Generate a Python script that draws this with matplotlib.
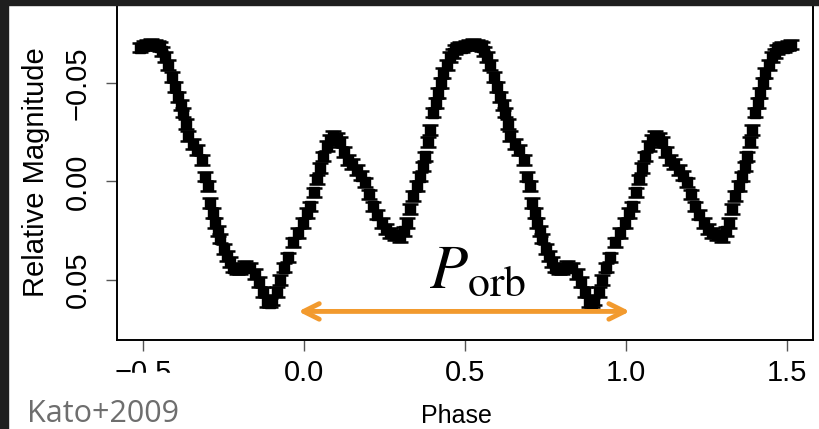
import numpy as np
import matplotlib
matplotlib.use("Agg")
import matplotlib.pyplot as plt
from matplotlib.patches import Rectangle

# one folded cycle of the light curve (phase, relative magnitude)
phase = [-0.509, -0.498, -0.488, -0.475, -0.463, -0.455, -0.447, -0.440, -0.432, -0.422,
         -0.410, -0.401, -0.391, -0.383, -0.376, -0.368, -0.360, -0.345, -0.332, -0.317,
         -0.307, -0.298, -0.292, -0.283, -0.276, -0.268, -0.261, -0.248, -0.239, -0.230,
         -0.220, -0.209, -0.199, -0.183, -0.168, -0.152, -0.140, -0.127, -0.115, -0.107,
         -0.099, -0.084, -0.075, -0.062, -0.050, -0.034, -0.019, -0.003, 0.009, 0.019,
         0.031, 0.040, 0.050, 0.059, 0.071, 0.081, 0.090, 0.102, 0.112, 0.124,
         0.137, 0.149, 0.165, 0.177, 0.189, 0.202, 0.214, 0.227, 0.242, 0.255,
         0.267, 0.283, 0.298, 0.311, 0.320, 0.329, 0.339, 0.351, 0.360, 0.370,
         0.376, 0.385, 0.391, 0.401, 0.410, 0.416, 0.425, 0.432, 0.444, 0.453,
         0.462, 0.469, 0.477, 0.484]
mag = [-0.068, -0.069, -0.0695, -0.0698, -0.0695, -0.069, -0.0685, -0.066, -0.063, -0.059,
       -0.053, -0.048, -0.043, -0.039, -0.035, -0.029, -0.023, -0.019, -0.016, -0.011,
       -0.0025, 0.0025, 0.011, 0.016, 0.021, 0.025, 0.029, 0.0345, 0.038, 0.041,
       0.0437, 0.0447, 0.0447, 0.043, 0.0437, 0.047, 0.051, 0.056, 0.061, 0.0615,
       0.060, 0.056, 0.050, 0.0437, 0.0386, 0.031, 0.026, 0.021, 0.016, 0.0127,
       0.0056, -0.001, -0.007, -0.0127, -0.018, -0.021, -0.023, -0.022, -0.020, -0.015,
       -0.011, -0.009, -0.006, -0.003, 0.0005, 0.0066, 0.0127, 0.0168, 0.021, 0.024,
       0.026, 0.0274, 0.028, 0.0254, 0.021, 0.0142, 0.0076, 0.0025, -0.0025, -0.0076,
       -0.0127, -0.020, -0.026, -0.035, -0.040, -0.045, -0.050, -0.055, -0.059, -0.063,
       -0.065, -0.067, -0.068, -0.0685]
mag_err = 0.0025

xticks = [-0.5, 0.0, 0.5, 1.0, 1.5]
yticks = [-0.05, 0.00, 0.05]

plt.rcParams['font.family'] = ['Liberation Sans', 'DejaVu Sans']
plt.rcParams['mathtext.fontset'] = 'stix'

fig = plt.figure(figsize=(8.2, 4.29), dpi=100)
ax = fig.add_axes([0.1427, 0.2075, 0.8488, 0.7809])

# the folded cycle is shown twice (and a bit), like the original figure
x = np.array(phase)
y = np.array(mag)
xs = np.concatenate([x, x + 1, x + 2])
ys = np.concatenate([y, y, y])
keep = xs <= 1.515
ax.errorbar(xs[keep], ys[keep], yerr=mag_err, fmt='s', color='black', ms=6.5,
            elinewidth=2.6, capsize=5.5, capthick=1.8)

ax.set_xlim(-0.581, 1.581)
ax.set_ylim(0.0805, -0.0896)
ax.set_xticks(xticks)
ax.set_xticklabels(['−0.5', '0.0', '0.5', '1.0', '1.5'])
ax.set_yticks(yticks)
ax.set_yticklabels(['−0.05', '0.00', '0.05'], rotation=90, va='center')
ax.tick_params(axis='both', direction='out', length=8, width=1, color='#555555',
               labelsize=21)
ax.tick_params(axis='x', pad=6)
ax.tick_params(axis='y', pad=10)
for s in ax.spines.values():
    s.set_linewidth(1.4)

ax.set_xlabel('Phase', fontsize=18)
ax.xaxis.set_label_coords(0.487, -0.19)
ax.set_ylabel('Relative Magnitude', fontsize=21, labelpad=10)

# orbital period arrow
ax.annotate('', xy=(1.012, 0.066), xytext=(-0.018, 0.066),
            arrowprops=dict(arrowstyle='<->', color='#F29A2E', lw=3.5,
                            mutation_scale=28, shrinkA=0, shrinkB=0))
ax.text(0.54, 0.0538, r'$P_{\mathrm{orb}}$', fontsize=45, ha='center',
        va='baseline', color='black')

# slide chrome: dark strips, white cover and credit
fig.add_artist(Rectangle((0, 424 / 429), 1, 5 / 429, transform=fig.transFigure,
                         color='#1f1f1f', zorder=20))
fig.add_artist(Rectangle((0, 0), 8 / 820, 1, transform=fig.transFigure,
                         color='#1f1f1f', zorder=20))
fig.add_artist(Rectangle((8 / 820, 0), 232 / 820, 56 / 429, transform=fig.transFigure,
                         color='white', zorder=10))
fig.text(27 / 820, 7 / 429, 'Kato+2009', fontsize=22, color='#6e6e6e',
         family=['Open Sans', 'DejaVu Sans'], ha='left', va='baseline', zorder=11)

fig.savefig('out.png', dpi=100)
